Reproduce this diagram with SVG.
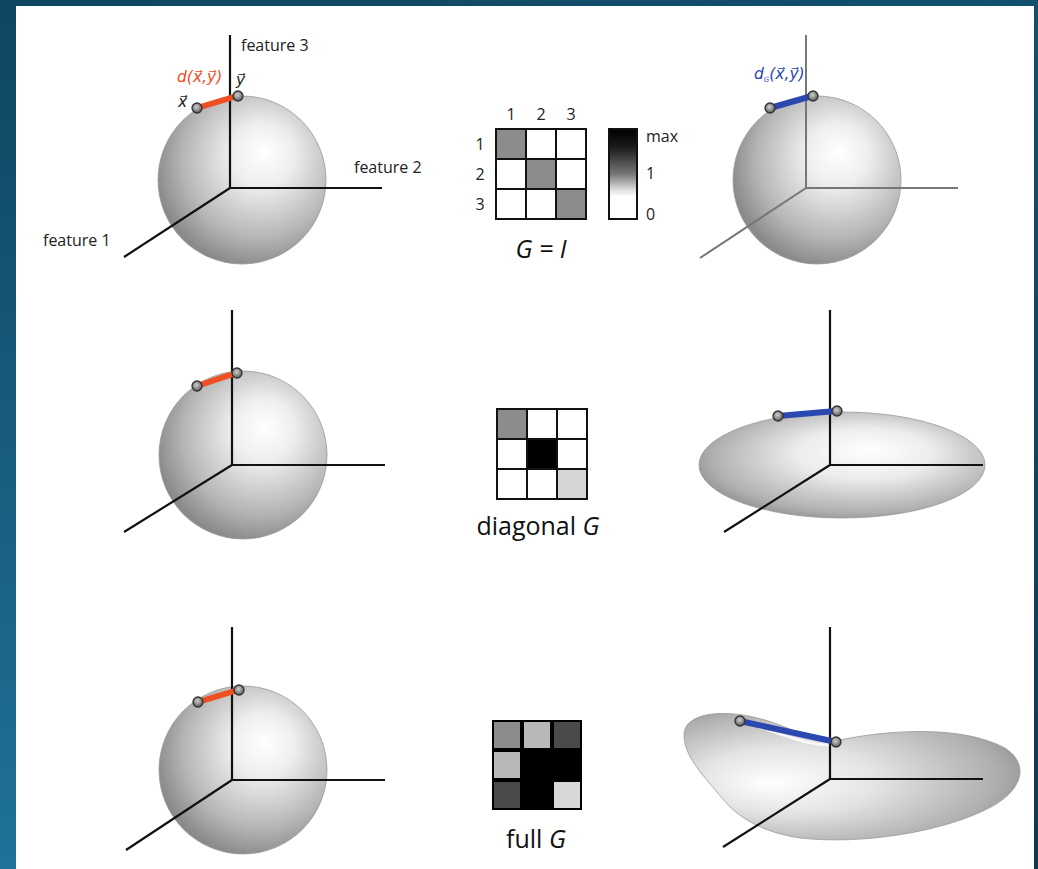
<svg xmlns="http://www.w3.org/2000/svg" width="1038" height="869" viewBox="0 0 1038 869">
<defs>
<linearGradient id="bg" x1="0" y1="0" x2="1" y2="1">
<stop offset="0" stop-color="#0f4662"/>
<stop offset="0.5" stop-color="#12506e"/>
<stop offset="1" stop-color="#0c3a50"/>
</linearGradient>
<linearGradient id="bgl" x1="0" y1="0" x2="0" y2="1">
<stop offset="0" stop-color="#0f4560"/>
<stop offset="1" stop-color="#1f7298"/>
</linearGradient>
<radialGradient id="sph" cx="0.6" cy="0.4" r="0.62" fx="0.63" fy="0.33">
<stop offset="0" stop-color="#ffffff"/>
<stop offset="0.3" stop-color="#eeeeee"/>
<stop offset="0.75" stop-color="#b5b5b5"/>
<stop offset="1" stop-color="#8a8a8a"/>
</radialGradient>
<radialGradient id="ell" cx="0.55" cy="0.45" r="0.6" fx="0.6" fy="0.35">
<stop offset="0" stop-color="#ffffff"/>
<stop offset="0.4" stop-color="#ececec"/>
<stop offset="0.85" stop-color="#b0b0b0"/>
<stop offset="1" stop-color="#8f8f8f"/>
</radialGradient>
<radialGradient id="blob" cx="0.4" cy="0.5" r="0.65" fx="0.25" fy="0.55">
<stop offset="0" stop-color="#ffffff"/>
<stop offset="0.4" stop-color="#e4e4e4"/>
<stop offset="0.85" stop-color="#afafaf"/>
<stop offset="1" stop-color="#939393"/>
</radialGradient>
<radialGradient id="pt" cx="0.45" cy="0.4" r="0.6">
<stop offset="0" stop-color="#d0d0d0"/>
<stop offset="1" stop-color="#5a5a5a"/>
</radialGradient>
<linearGradient id="cbar" x1="0" y1="0" x2="0" y2="1">
<stop offset="0" stop-color="#000"/>
<stop offset="0.2" stop-color="#1a1a1a"/>
<stop offset="0.5" stop-color="#777"/>
<stop offset="0.68" stop-color="#e0e0e0"/>
<stop offset="0.75" stop-color="#fff"/>
<stop offset="1" stop-color="#fff"/>
</linearGradient>
</defs>
<style>
.ax{stroke:#111;stroke-width:2.2;fill:none}
.axg{stroke:#777;stroke-width:2;fill:none}
.sp{stroke:#999;stroke-width:0.8}
.red{stroke:#f04e23;stroke-width:6}
.blue{stroke:#2b47b0;stroke-width:6}
.pt{fill:url(#pt);stroke:#333;stroke-width:1.3}
.lbl{font-family:'Open Sans','Liberation Sans',sans-serif;font-size:16px;fill:#222}
.f{font-family:'DejaVu Sans',sans-serif;font-size:15.5px;font-style:italic}
.big{font-family:'Open Sans','Liberation Sans',sans-serif;font-size:25px;fill:#111}
.it{font-style:italic}
.cell{stroke:#111;stroke-width:2}
</style>
<rect x="0" y="0" width="1038" height="869" fill="url(#bg)"/>
<rect x="0" y="0" width="16" height="869" fill="url(#bgl)"/>
<rect x="16" y="6" width="1018" height="863" fill="#ffffff"/>

<g id="row1-left">
<circle cx="242" cy="180" r="84" fill="url(#sph)" class="sp"/>
<path class="ax" d="M230,35 V188 H382 M230,188 L124,257"/>
<text class="lbl" x="241" y="51">feature 3</text>
<text class="lbl" x="354" y="173">feature 2</text>
<text class="lbl" x="43" y="246">feature 1</text>
<line class="red" x1="197" y1="108" x2="237" y2="96"/>
<circle class="pt" cx="197" cy="108" r="5"/>
<circle class="pt" cx="238" cy="96" r="5"/>
<text class="f" x="177" y="82" fill="#f04e23">d(x⃗,y⃗)</text>
<text class="f" x="178" y="107" fill="#222">x⃗</text>
<text class="f" x="236" y="85" fill="#222">y⃗</text>
</g>

<g id="matrix-identity">
<text class="lbl" x="511" y="120" text-anchor="middle">1</text>
<text class="lbl" x="541" y="120" text-anchor="middle">2</text>
<text class="lbl" x="571" y="120" text-anchor="middle">3</text>
<text class="lbl" x="480" y="150" text-anchor="middle">1</text>
<text class="lbl" x="480" y="180" text-anchor="middle">2</text>
<text class="lbl" x="480" y="210" text-anchor="middle">3</text>
<rect class="cell" x="496" y="129" width="30" height="30" fill="#8c8c8c"/>
<rect class="cell" x="526" y="129" width="30" height="30" fill="#fff"/>
<rect class="cell" x="556" y="129" width="30" height="30" fill="#fff"/>
<rect class="cell" x="496" y="159" width="30" height="30" fill="#fff"/>
<rect class="cell" x="526" y="159" width="30" height="30" fill="#8c8c8c"/>
<rect class="cell" x="556" y="159" width="30" height="30" fill="#fff"/>
<rect class="cell" x="496" y="189" width="30" height="30" fill="#fff"/>
<rect class="cell" x="526" y="189" width="30" height="30" fill="#fff"/>
<rect class="cell" x="556" y="189" width="30" height="30" fill="#8c8c8c"/>
<text class="big it" x="541" y="258" text-anchor="middle">G = I</text>
</g>

<g id="colorbar">
<rect x="609" y="129" width="28" height="90" fill="url(#cbar)" stroke="#111" stroke-width="2"/>
<text class="lbl" x="646" y="142">max</text>
<text class="lbl" x="646" y="179">1</text>
<text class="lbl" x="646" y="220">0</text>
</g>

<g id="row1-right">
<circle cx="817" cy="180" r="84" fill="url(#sph)" class="sp"/>
<path class="axg" d="M806,35 V188 H958 M806,188 L700,258"/>
<line class="blue" x1="770" y1="108" x2="812" y2="96"/>
<circle class="pt" cx="770" cy="108" r="5"/>
<circle class="pt" cx="813" cy="96" r="5"/>
<text class="f" x="754" y="79" fill="#2b47b0">d<tspan font-size="7" dy="3">G</tspan><tspan dy="-3">(x⃗,y⃗)</tspan></text>
</g>

<g id="row2-left">
<circle cx="243" cy="455" r="84" fill="url(#sph)" class="sp"/>
<path class="ax" d="M232,310 V465 H385 M232,465 L124,532"/>
<line class="red" x1="197" y1="386" x2="236" y2="373"/>
<circle class="pt" cx="197" cy="386" r="5"/>
<circle class="pt" cx="237" cy="373" r="5"/>
</g>

<g id="matrix-diagonal">
<rect class="cell" x="497" y="409" width="30" height="30" fill="#8c8c8c"/>
<rect class="cell" x="527" y="409" width="30" height="30" fill="#fff"/>
<rect class="cell" x="557" y="409" width="30" height="30" fill="#fff"/>
<rect class="cell" x="497" y="439" width="30" height="30" fill="#fff"/>
<rect class="cell" x="527" y="439" width="30" height="30" fill="#000"/>
<rect class="cell" x="557" y="439" width="30" height="30" fill="#fff"/>
<rect class="cell" x="497" y="469" width="30" height="30" fill="#fff"/>
<rect class="cell" x="527" y="469" width="30" height="30" fill="#fff"/>
<rect class="cell" x="557" y="469" width="30" height="30" fill="#d6d6d6"/>
<text class="big" x="538" y="535" text-anchor="middle">diagonal <tspan class="it">G</tspan></text>
</g>

<g id="row2-right">
<ellipse cx="842" cy="465" rx="143" ry="53" fill="url(#ell)" class="sp"/>
<path class="ax" d="M830,310 V465 H983 M830,465 L724,532"/>
<line class="blue" x1="778" y1="416" x2="836" y2="411"/>
<circle class="pt" cx="778" cy="416" r="5"/>
<circle class="pt" cx="837" cy="411" r="5"/>
</g>

<g id="row3-left">
<circle cx="243" cy="770" r="84" fill="url(#sph)" class="sp"/>
<path class="ax" d="M232,627 V780 H385 M232,780 L126,850"/>
<line class="red" x1="198" y1="702" x2="238" y2="690"/>
<circle class="pt" cx="198" cy="702" r="5"/>
<circle class="pt" cx="239" cy="690" r="5"/>
</g>

<g id="matrix-full">
<rect x="492" y="720" width="90" height="90" fill="#000"/>
<rect x="494" y="722" width="26" height="26" fill="#8c8c8c"/>
<rect x="524" y="722" width="26" height="26" fill="#b8b8b8"/>
<rect x="554" y="722" width="26" height="26" fill="#4a4a4a"/>
<rect x="494" y="752" width="26" height="26" fill="#b8b8b8"/>
<rect x="494" y="782" width="26" height="26" fill="#4a4a4a"/>
<rect x="554" y="782" width="26" height="26" fill="#d8d8d8"/>
<text class="big" x="536" y="848" text-anchor="middle">full <tspan class="it">G</tspan></text>
</g>

<g id="row3-right">
<path class="sp" fill="url(#blob)" d="M684,735 C684,712 725,708 765,720 C795,729 815,744 845,739 C885,731 960,724 1005,748 C1030,764 1024,792 985,810 C940,832 862,845 800,838 C762,832 738,818 722,798 C700,772 684,755 684,735 Z"/>
<path d="M760,727 C790,738 815,746 832,745" stroke="#fff" stroke-width="3" fill="none" opacity="0.8"/>
<path class="ax" d="M830,627 V779 H983 M830,779 L723,847"/>
<line class="blue" x1="740" y1="721" x2="836" y2="742"/>
<circle class="pt" cx="740" cy="721" r="5"/>
<circle class="pt" cx="836" cy="742" r="5"/>
</g>
</svg>
